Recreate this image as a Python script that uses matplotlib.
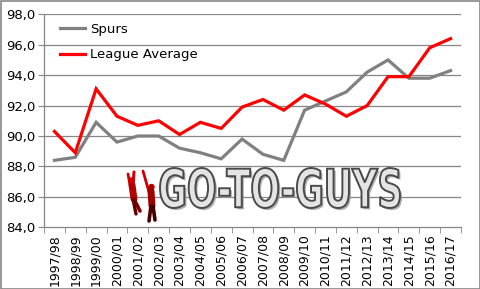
import matplotlib
matplotlib.use("Agg")
import matplotlib.pyplot as plt
import matplotlib.patheffects as pe
from matplotlib.patches import Rectangle, PathPatch, Ellipse
from matplotlib.lines import Line2D
from matplotlib.textpath import TextPath
from matplotlib.font_manager import FontProperties
from matplotlib.transforms import Affine2D

seasons = ["1997/98", "1998/99", "1999/00", "2000/01", "2001/02", "2002/03",
           "2003/04", "2004/05", "2005/06", "2006/07", "2007/08", "2008/09",
           "2009/10", "2010/11", "2011/12", "2012/13", "2013/14", "2014/15",
           "2015/16", "2016/17"]
spurs = [88.4, 88.6, 90.9, 89.6, 90.0, 90.0, 89.2, 88.9, 88.5, 89.8,
         88.8, 88.4, 91.7, 92.3, 92.9, 94.2, 95.0, 93.8, 93.8, 94.3]
league = [90.3, 88.9, 93.1, 91.3, 90.7, 91.0, 90.1, 90.9, 90.5, 91.9,
          92.4, 91.7, 92.7, 92.1, 91.3, 92.0, 93.9, 93.9, 95.8, 96.4]
yticks = [84.0, 86.0, 88.0, 90.0, 92.0, 94.0, 96.0, 98.0]

W, H = 481, 289
fig = plt.figure(figsize=(W / 100, H / 100), dpi=100)
ax = fig.add_axes([44 / W, (H - 227.3) / H, (461 - 44) / W, (227.3 - 14.3) / H])
px = Affine2D().scale(1 / W, -1 / H).translate(0, 1) + fig.transFigure

x = list(range(len(seasons)))
grid_c = "#868686"
for yv in yticks[1:]:
    ax.axhline(yv, color=grid_c, lw=0.9, zorder=1)

# watermark logo text, scaled into its box
tp = TextPath((0, 0), "GO-TO-GUYS", size=10,
              prop=FontProperties(family="DejaVu Sans", weight="bold"))
bb = tp.get_extents()
x0, x1 = (160 - 44) / 417, (400 - 44) / 417
y0, y1 = (227.3 - 208) / 213, (227.3 - 168) / 213
tr = Affine2D().translate(-bb.x0, -bb.y0).scale((x1 - x0) / bb.width,
                                                 (y1 - y0) / bb.height).translate(x0, y0)
logo = PathPatch(tr.transform_path(tp), transform=ax.transAxes, facecolor="#e4e4e4",
                 edgecolor="#4a4a4a", lw=1.4, zorder=2)
logo.set_path_effects([pe.SimplePatchShadow(offset=(1.5, -1.5), shadow_rgbFace="#999999", alpha=0.8),
                       pe.Normal()])
ax.add_patch(logo)

# silhouettes of two players (logo decoration, pixel coordinates)
segs = [((133, 185), (134, 172), "#d40000", 2.2), ((130, 185), (128, 174), "#d40000", 2.0),
        ((132, 185), (134, 199), "#b40000", 5.0), ((134, 199), (140, 211), "#800000", 2.6),
        ((133, 199), (136, 214), "#600000", 2.4),
        ((149, 192), (143, 171), "#cc0000", 2.0), ((151, 191), (152, 206), "#a00000", 5.0),
        ((151, 206), (149, 221), "#500000", 2.6), ((153, 206), (155, 220), "#400000", 2.6)]
for (xa, ya), (xb, yb), c, lw in segs:
    fig.add_artist(Line2D([xa, xb], [ya, yb], transform=px, color=c, lw=lw,
                          solid_capstyle="round", zorder=2))
for (cx, cy, c) in [(131.5, 180.5, "#cc0000"), (151.5, 187, "#b00000")]:
    fig.add_artist(Ellipse((cx / W, 1 - cy / H), 5 / W, 5 / H, transform=fig.transFigure,
                           color=c, zorder=2))

ax.plot(x, spurs, color="#808080", lw=2.3, label="Spurs", zorder=3,
        solid_joinstyle="miter")
ax.plot(x, league, color="#ff0000", lw=2.3, label="League Average", zorder=4,
        solid_joinstyle="miter")

ax.set_xlim(-0.5, len(seasons) - 0.5)
ax.set_ylim(84, 98)
ax.set_yticks(yticks)
ax.set_yticklabels([f"{v:.1f}".replace(".", ",") for v in yticks], fontsize=9.5)
ax.set_xticks(x)
ax.set_xticklabels(seasons, rotation=90, fontsize=9)
ax.set_xticks([i - 0.5 for i in range(len(seasons) + 1)], minor=True)
ax.tick_params(axis="x", which="major", length=0, pad=5)
ax.tick_params(axis="x", which="minor", length=4, color=grid_c)
ax.tick_params(axis="y", length=4, color=grid_c, pad=2)
for s in ["top", "right"]:
    ax.spines[s].set_visible(False)
for s in ["left", "bottom"]:
    ax.spines[s].set_color(grid_c)
    ax.spines[s].set_linewidth(0.9)

leg = ax.legend(loc="upper left", bbox_to_anchor=(0.038, 0.96), frameon=False,
                borderpad=0, borderaxespad=0,
                fontsize=9.5, handlelength=1.9, handletextpad=0.4, labelspacing=0.95)

fig.patches.append(Rectangle((0.5 / W, 0.5 / H), 1 - 1.5 / W, 1 - 1.5 / H,
                             transform=fig.transFigure, fill=False,
                             edgecolor="#868686", lw=1.2))
fig.savefig("out.png", dpi=100)
